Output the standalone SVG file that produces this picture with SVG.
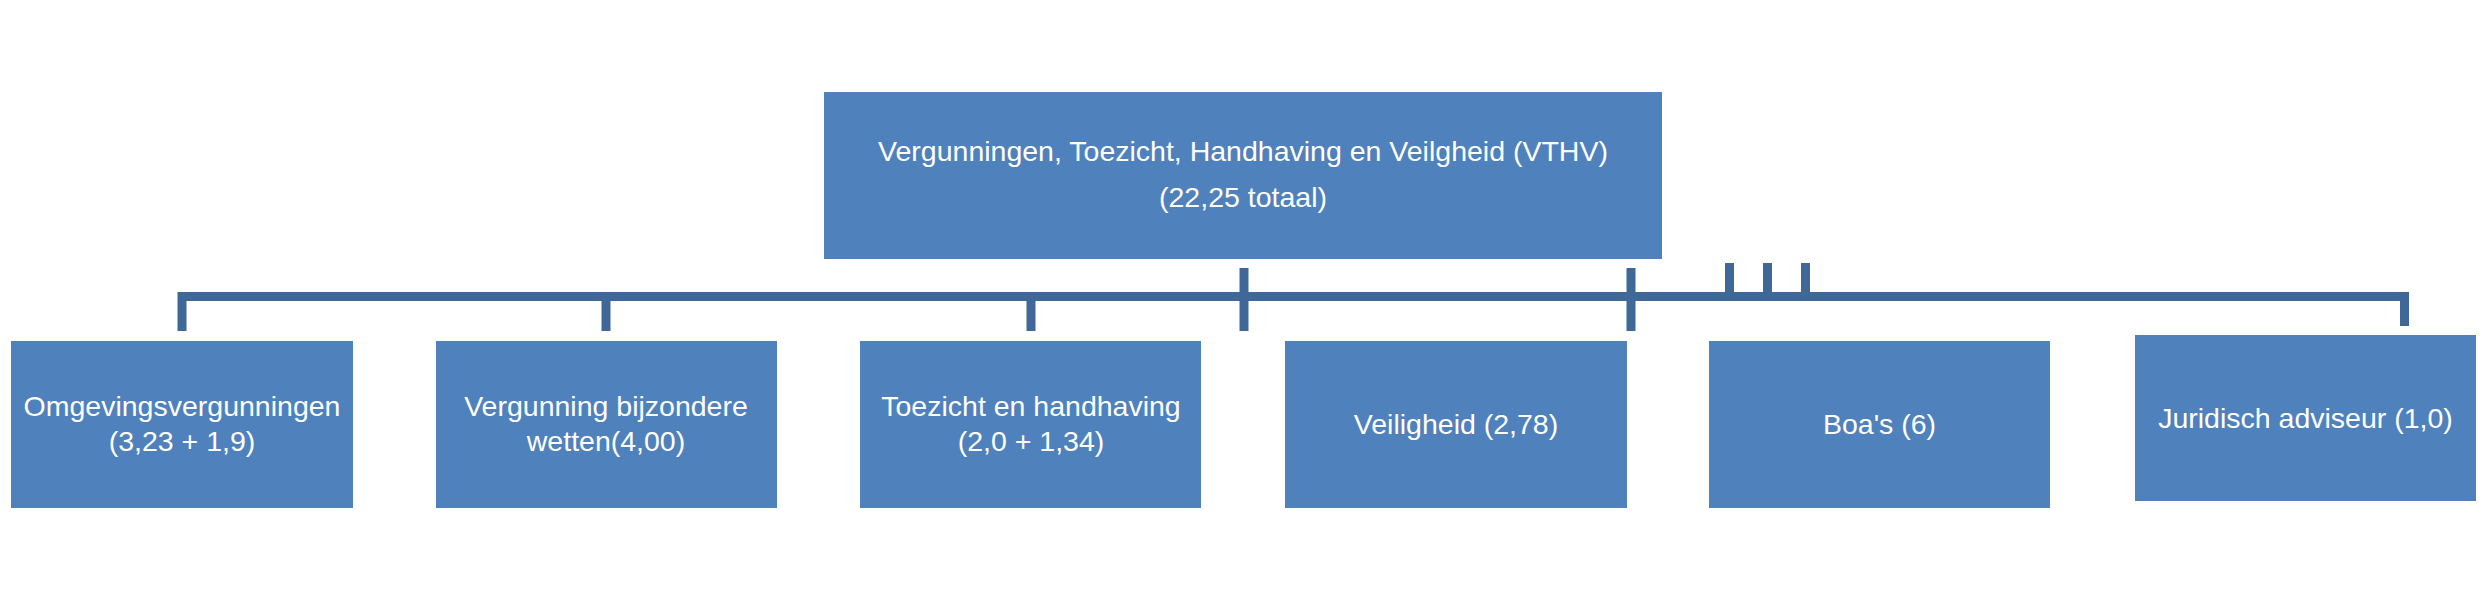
<svg xmlns="http://www.w3.org/2000/svg" width="2486" height="599" viewBox="0 0 2486 599">
<style>
.box{fill:#4F81BD;}
.t{font-family:"Liberation Sans",Arial,sans-serif;font-size:28.5px;fill:#FFFFFF;text-anchor:middle;}
.c{fill:none;stroke:#3F6797;stroke-width:9;stroke-linejoin:miter;stroke-linecap:butt;}
</style>
<rect width="2486" height="599" fill="#FFFFFF"/>
<g id="connectors">
<path class="c" d="M182,331 V296.5 H2404.5 V326"/>
<path class="c" d="M606,296.5 V331"/>
<path class="c" d="M1031,296.5 V331"/>
<path class="c" d="M1244,268 V331"/>
<path class="c" d="M1631,268 V331"/>
<path class="c" d="M1729.5,263 V296.5"/>
<path class="c" d="M1767.5,263 V296.5"/>
<path class="c" d="M1805.5,263 V296.5"/>
</g>
<g id="node-vthv">
<rect class="box" x="824" y="92" width="838" height="167"/>
<text class="t" x="1243" y="160.5">Vergunningen, Toezicht, Handhaving en Veilgheid (VTHV)</text>
<text class="t" x="1243" y="207">(22,25 totaal)</text>
</g>
<g id="node-omgeving">
<rect class="box" x="11" y="341" width="342" height="167"/>
<text class="t" x="182" y="416">Omgevingsvergunningen</text>
<text class="t" x="182" y="451">(3,23 + 1,9)</text>
</g>
<g id="node-bijzondere">
<rect class="box" x="436" y="341" width="341" height="167"/>
<text class="t" x="606" y="416">Vergunning bijzondere</text>
<text class="t" x="606" y="451">wetten(4,00)</text>
</g>
<g id="node-toezicht">
<rect class="box" x="860" y="341" width="341" height="167"/>
<text class="t" x="1031" y="416">Toezicht en handhaving</text>
<text class="t" x="1031" y="451">(2,0 + 1,34)</text>
</g>
<g id="node-veiligheid">
<rect class="box" x="1285" y="341" width="342" height="167"/>
<text class="t" x="1456" y="433.5">Veiligheid (2,78)</text>
</g>
<g id="node-boas">
<rect class="box" x="1709" y="341" width="341" height="167"/>
<text class="t" x="1879.5" y="433.5">Boa's (6)</text>
</g>
<g id="node-juridisch">
<rect class="box" x="2135" y="335" width="341" height="166"/>
<text class="t" x="2305.5" y="427.5">Juridisch adviseur (1,0)</text>
</g>
</svg>
